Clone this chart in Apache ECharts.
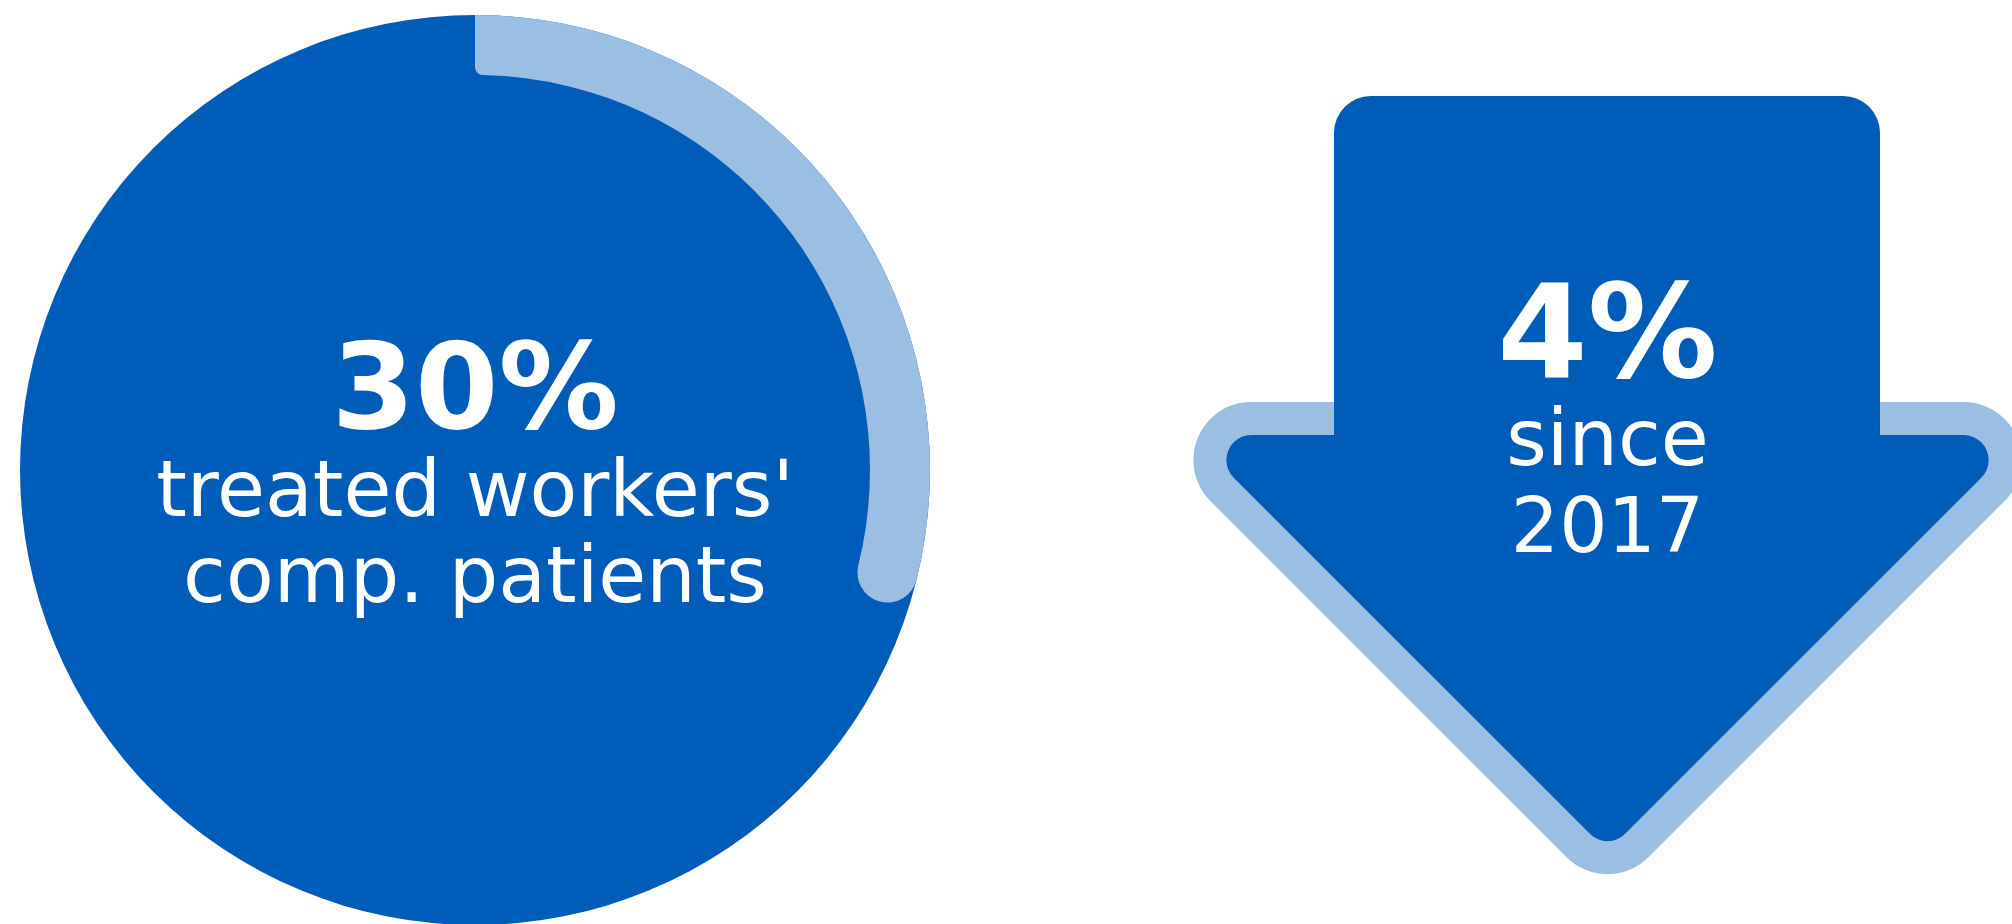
<!DOCTYPE html>
<html><head><meta charset="utf-8">
<script src="https://cdn.jsdelivr.net/npm/echarts@6/dist/echarts.min.js"></script>
<style>html,body{margin:0;padding:0;background:#fff}#c{width:2012px;height:924px}</style>
</head><body><div id="c"></div>
<script>
// ---- data ----
const shareCategories = ['treated workers\' comp. patients', 'other'];
const shareValues = [30, 70];
const shareLabelLines = ["treated workers'", 'comp. patients'];
const changeValues = [4];
const changeLabelLines = ['since', '2017'];

// ---- style / layout ----
const DARK = '#005CB9', LIGHT = '#9BBFE3';
const FONT = '"DejaVu Sans", sans-serif';
const CX = 475, CY = 470, R = 455, BAND = 60;

// arrow geometry (decorative icon)
const AX = 1607.5;            // arrow centre line
const HEAD_TOP = 435, CORNER = 25, OUTLINE = 33;
const LEFT_C = -756, RIGHT_C = 2459; // diagonals: y - x = LEFT_C ; x + y = RIGHT_C
const s2 = Math.SQRT2;
const iTop = HEAD_TOP + CORNER;
const iL = LEFT_C - CORNER * s2, iR = RIGHT_C - CORNER * s2;
const headPts = [[iTop - iL, iTop], [iR - iTop, iTop], [AX, iR - AX]];
const SHAFT = {x: 1334, y: 96, w: 546, h: 420, r: 37};

const chart = echarts.init(document.getElementById('c'), null, {renderer: 'canvas'});

const total = shareValues.reduce((a, b) => a + b, 0);
const pct = Math.round(shareValues[0] / total * 100);

function txt(text, x, y, size, bold) {
  return {
    type: 'text', z: 100, silent: true,
    style: {
      text, x, y, fill: '#fff',
      font: (bold ? 'bold ' : '') + size + 'px ' + FONT,
      align: 'center', verticalAlign: 'middle'
    }
  };
}

chart.setOption({
  animation: false,
  series: [
    {
      type: 'pie', silent: true, center: [CX, CY], radius: [0, R],
      label: {show: false}, labelLine: {show: false},
      itemStyle: {color: DARK},
      data: [{name: 'all', value: total}]
    },
    {
      type: 'pie', silent: true, center: [CX, CY], radius: [R - BAND, R],
      startAngle: 90, clockwise: true, padAngle: 0,
      label: {show: false}, labelLine: {show: false},
      data: shareValues.map((v, i) => ({
        name: shareCategories[i], value: v,
        itemStyle: i === 0
          ? {color: LIGHT, borderRadius: [8, BAND / 2, 0, BAND / 2]}
          : {color: 'rgba(0,0,0,0)'}
      }))
    }
  ],
  graphic: [
    {
      type: 'polygon', z: 1, silent: true,
      shape: {points: headPts},
      style: {fill: LIGHT, stroke: LIGHT, lineWidth: 2 * (CORNER + OUTLINE), lineJoin: 'round'}
    },
    {
      type: 'rect', z: 2, silent: true,
      shape: {x: SHAFT.x, y: SHAFT.y, width: SHAFT.w, height: SHAFT.h, r: [SHAFT.r, SHAFT.r, 0, 0]},
      style: {fill: DARK}
    },
    {
      type: 'polygon', z: 3, silent: true,
      shape: {points: headPts},
      style: {fill: DARK, stroke: DARK, lineWidth: 2 * CORNER, lineJoin: 'round'}
    },
    txt(pct + '%', CX, 397, 120, true),
    txt(shareLabelLines[0], CX, 496, 78, false),
    txt(shareLabelLines[1], CX, 582, 78, false),
    txt(changeValues[0] + '%', AX, 343, 130, true),
    txt(changeLabelLines[0], AX, 445, 78, false),
    txt(changeLabelLines[1], AX, 532, 76, false)
  ]
});
</script></body></html>
